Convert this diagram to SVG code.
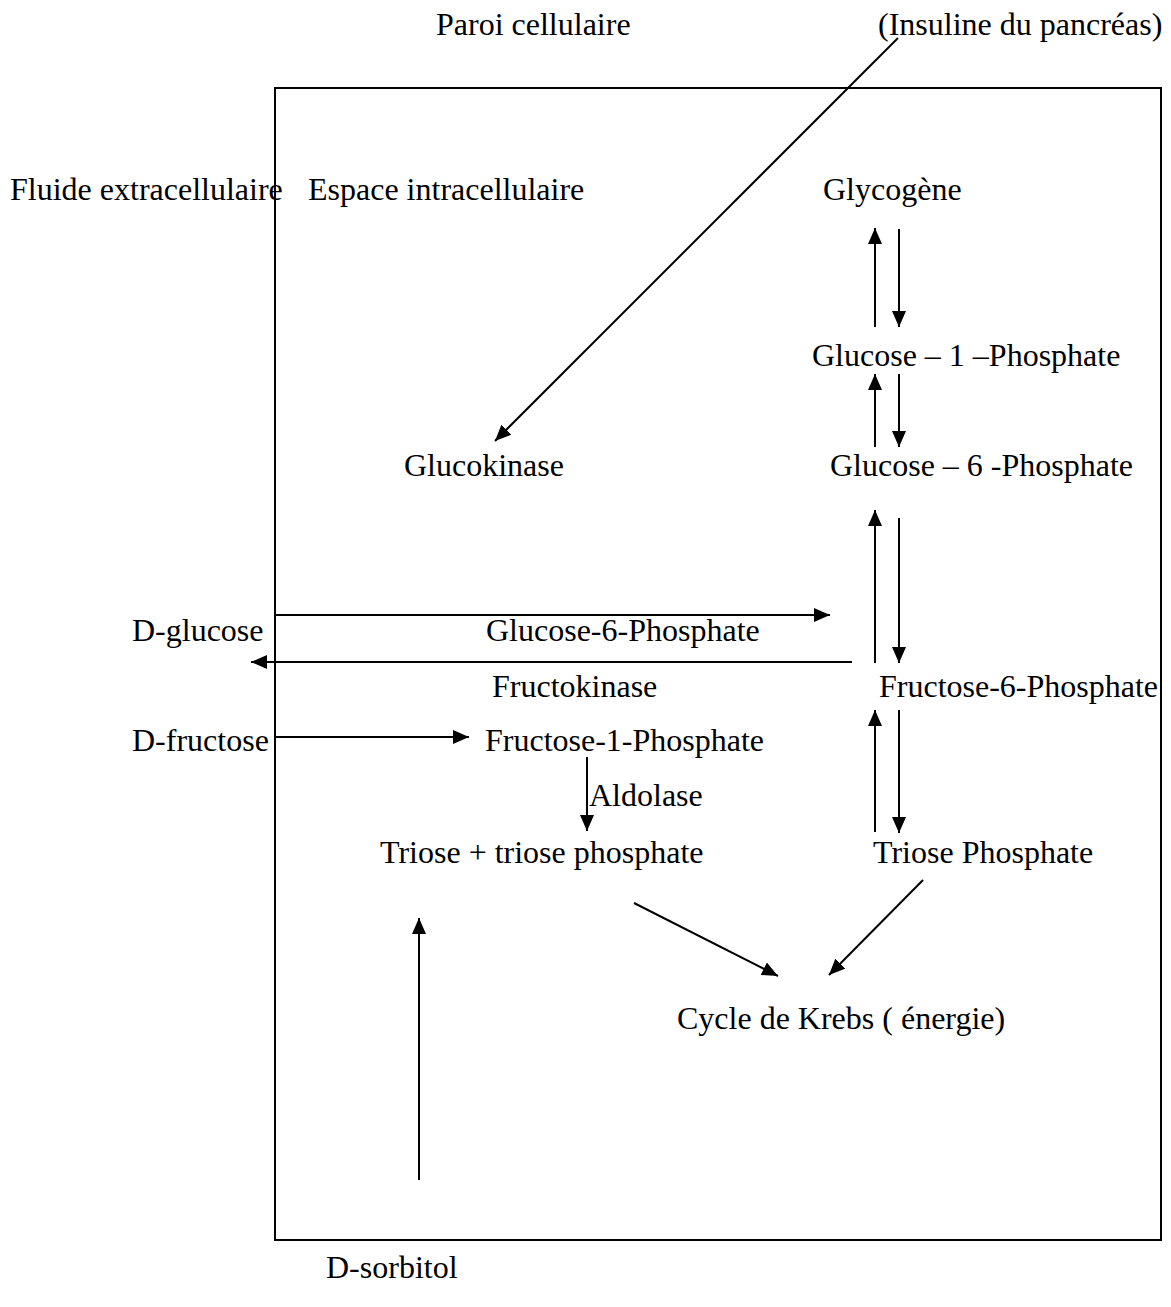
<svg xmlns="http://www.w3.org/2000/svg" width="1171" height="1307" viewBox="0 0 1171 1307">
<style>
text{font-family:"Liberation Serif","Times New Roman",serif;font-size:32px;fill:#000}
.c{stroke:#000;stroke-width:2;fill:none}
</style>
<defs>
<marker id="ah" markerUnits="userSpaceOnUse" markerWidth="16" markerHeight="14" refX="16" refY="7" orient="auto">
<path d="M0,0 L16,7 L0,14 Z" fill="#000"/>
</marker>
</defs>
<rect x="275" y="88" width="886" height="1152" fill="none" stroke="#000" stroke-width="2"/>
<g id="connectors">
<line class="c" x1="898" y1="38" x2="495" y2="441" marker-end="url(#ah)"/>
<line class="c" x1="875" y1="327" x2="875" y2="228" marker-end="url(#ah)"/>
<line class="c" x1="899" y1="229" x2="899" y2="327" marker-end="url(#ah)"/>
<line class="c" x1="875" y1="447" x2="875" y2="374" marker-end="url(#ah)"/>
<line class="c" x1="899" y1="374" x2="899" y2="447" marker-end="url(#ah)"/>
<line class="c" x1="875" y1="663" x2="875" y2="510" marker-end="url(#ah)"/>
<line class="c" x1="899" y1="518" x2="899" y2="663" marker-end="url(#ah)"/>
<line class="c" x1="875" y1="832" x2="875" y2="710" marker-end="url(#ah)"/>
<line class="c" x1="899" y1="710" x2="899" y2="833" marker-end="url(#ah)"/>
<line class="c" x1="275" y1="615" x2="830" y2="615" marker-end="url(#ah)"/>
<line class="c" x1="852" y1="662" x2="251" y2="662" marker-end="url(#ah)"/>
<line class="c" x1="275" y1="737" x2="469" y2="737" marker-end="url(#ah)"/>
<line class="c" x1="587" y1="757" x2="587" y2="831" marker-end="url(#ah)"/>
<line class="c" x1="634" y1="903" x2="778" y2="976" marker-end="url(#ah)"/>
<line class="c" x1="923" y1="880" x2="829" y2="975" marker-end="url(#ah)"/>
<line class="c" x1="419" y1="1180" x2="419" y2="918" marker-end="url(#ah)"/>
</g>
<g id="paroi"><text x="436" y="35">Paroi cellulaire</text></g>
<g id="insuline"><text x="878" y="35">(Insuline du pancréas)</text></g>
<g id="fluide"><text x="10" y="200">Fluide extracellulaire</text></g>
<g id="espace"><text x="308" y="200">Espace intracellulaire</text></g>
<g id="glycogene"><text x="823" y="200">Glycogène</text></g>
<g id="g1p"><text x="812" y="366">Glucose – 1 –Phosphate</text></g>
<g id="glucokinase"><text x="404" y="476">Glucokinase</text></g>
<g id="g6p"><text x="830" y="476">Glucose – 6 -Phosphate</text></g>
<g id="dglucose"><text x="132" y="641">D-glucose</text></g>
<g id="g6p2"><text x="486" y="641">Glucose-6-Phosphate</text></g>
<g id="fructokinase"><text x="492" y="697">Fructokinase</text></g>
<g id="f6p"><text x="879" y="697">Fructose-6-Phosphate</text></g>
<g id="dfructose"><text x="132" y="751">D-fructose</text></g>
<g id="f1p"><text x="485" y="751">Fructose-1-Phosphate</text></g>
<g id="aldolase"><text x="589" y="806">Aldolase</text></g>
<g id="triose1"><text x="380" y="863">Triose + triose phosphate</text></g>
<g id="triose2"><text x="873" y="863">Triose Phosphate</text></g>
<g id="krebs"><text x="677" y="1029">Cycle de Krebs ( énergie)</text></g>
<g id="sorbitol"><text x="326" y="1278">D-sorbitol</text></g>
</svg>
